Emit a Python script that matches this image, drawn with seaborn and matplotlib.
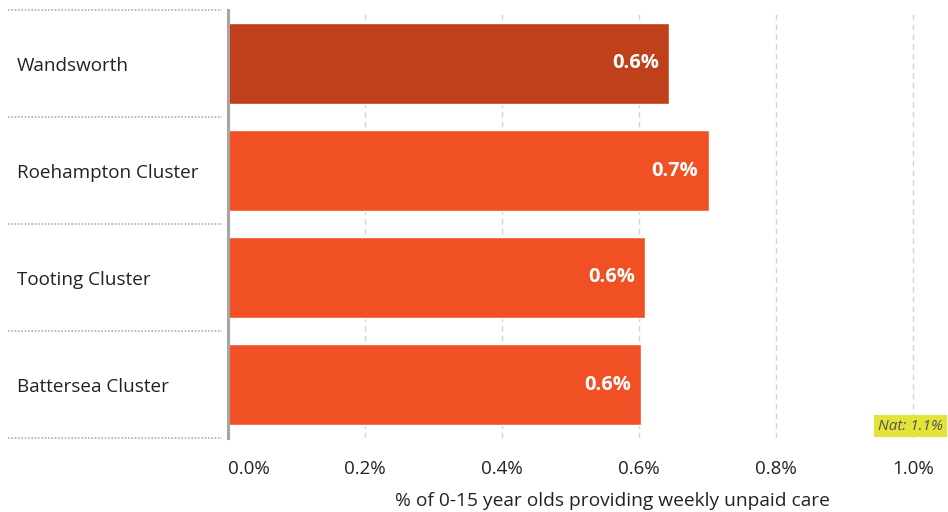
import pandas as pd
import matplotlib.pyplot as plt
import matplotlib.transforms as mtransforms
import seaborn as sns

areas = ["Wandsworth", "Roehampton Cluster", "Tooting Cluster", "Battersea Cluster"]
values = [0.644, 0.702, 0.609, 0.603]
value_labels = ["0.6%", "0.7%", "0.6%", "0.6%"]
bar_colors = ["#bf401b", "#f15025", "#f15025", "#f15025"]
ticks = [0.0, 0.2, 0.4, 0.6, 0.8, 1.0]
tick_labels = ["0.0%", "0.2%", "0.4%", "0.6%", "0.8%", "1.0%"]
national = 1.1

sns.set_style("white")
plt.rcParams["font.family"] = ["Open Sans", "DejaVu Sans"]

df = pd.DataFrame({"area": areas, "value": values})

fig = plt.figure(figsize=(9.48, 5.12), dpi=100)
ax = fig.add_axes([228 / 948, 74 / 512, 719 / 948, 428 / 512])

sns.barplot(data=df, x="value", y="area", hue="area", palette=bar_colors,
            orient="h", width=0.75, legend=False, ax=ax, saturation=1)

ax.set_xlim(0, 1.05)
ax.set_ylim(3.5, -0.5)
ax.set_xticks(ticks)
ax.set_xticklabels(tick_labels, fontsize=13.5, color="#222222")
ax.get_xticklabels()[0].set_horizontalalignment("left")
ax.tick_params(axis="x", length=0, pad=16)
ax.set_yticks([])
ax.set_ylabel("")
ax.set_xlabel("% of 0-15 year olds providing weekly unpaid care",
              fontsize=13.8, color="#222222")
ax.xaxis.set_label_coords(0.535, -0.125)

for x in ticks[1:]:
    ax.axvline(x, color="#d4d4d4", lw=1, ls=(0, (4, 3)), zorder=0)

for s in ["top", "right", "bottom"]:
    ax.spines[s].set_visible(False)
ax.spines["left"].set_color("#a6a6a6")
ax.spines["left"].set_linewidth(2.2)
ax.spines["left"].set_zorder(5)

# row labels and dotted separators in the left margin
trans = mtransforms.blended_transform_factory(fig.transFigure, ax.transData)
for i, name in enumerate(areas):
    ax.text(17 / 948, i + 0.02, name, transform=trans, ha="left", va="center",
            fontsize=13.6, color="#222222")
for y in [-0.5, 0.5, 1.5, 2.5, 3.5]:
    ax.plot([8 / 948, 222 / 948], [y, y], transform=trans, clip_on=False,
            color="#b0b0b0", lw=1.2, ls=(0, (1, 1)))

# value labels inside bars
for i, (v, lab) in enumerate(zip(values, value_labels)):
    ax.text(v - 0.015, i, lab, ha="right", va="center", fontsize=14.5,
            fontweight="bold", color="white")

ax.text(0.994, 0.028, f"Nat: {national:.1f}%", transform=ax.transAxes,
        ha="right", va="center", fontsize=11, style="italic", color="#555555",
        bbox=dict(boxstyle="square,pad=0.25", fc="#e3e33a", ec="none"))

fig.savefig("out.png", dpi=100)
